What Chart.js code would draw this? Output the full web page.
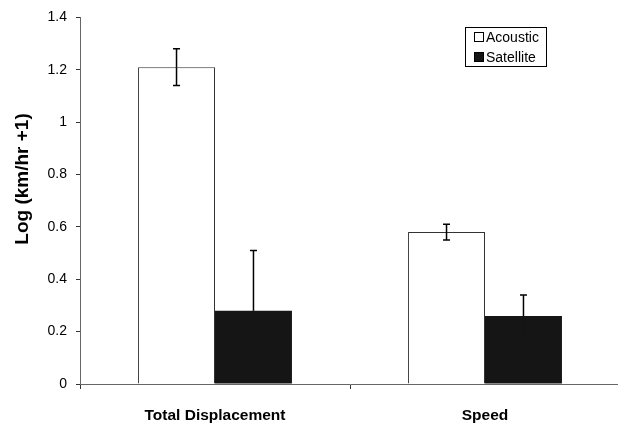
<!DOCTYPE html>
<html lang="en">
<head>
    <meta charset="UTF-8">
    <title>Log (km/hr +1) by method</title>
    <script src="https://cdn.jsdelivr.net/npm/chart.js"></script>
    <style>
        html, body { margin: 0; padding: 0; overflow: hidden; background: #fff; }
        #wrap { width: 624px; height: 423px; }
    </style>
</head>
<body>
    <div id="wrap"><canvas id="myChart" width="624" height="423"></canvas></div>
    <script>
        const categories = ['Total Displacement', 'Speed'];
        const acoustic = [1.21, 0.58];
        const acousticErr = [0.07, 0.03];
        const satellite = [0.28, 0.26];
        const satelliteErr = [0.23, 0.08];
        const yTicks = [0, 0.2, 0.4, 0.6, 0.8, 1, 1.2, 1.4];
        const yTitle = 'Log (km/hr +1)';

        const errs = [acousticErr, satelliteErr];
        const FONT = '"Liberation Sans", Arial, sans-serif';

        // error bars drawn from the scales after the bars
        // (the lower whisker sits inside the bar, so it takes the bar colour on the dark series)
        const errorBars = {
            id: 'errorBars',
            afterDatasetsDraw(chart) {
                const ctx = chart.ctx;
                const y = chart.scales.y;
                ctx.save();
                ctx.lineWidth = 1.5;
                chart.data.datasets.forEach((ds, i) => {
                    const lowColor = i === 1 ? ds.backgroundColor : '#000';
                    chart.getDatasetMeta(i).data.forEach((bar, j) => {
                        const v = ds.data[j], e = errs[i][j];
                        const top = y.getPixelForValue(v + e);
                        const mid = y.getPixelForValue(v);
                        const bot = y.getPixelForValue(v - e);
                        ctx.strokeStyle = '#000';
                        ctx.beginPath();
                        ctx.moveTo(bar.x, top); ctx.lineTo(bar.x, mid);
                        ctx.moveTo(bar.x - 3.5, top); ctx.lineTo(bar.x + 3.5, top);
                        ctx.stroke();
                        ctx.strokeStyle = lowColor;
                        ctx.beginPath();
                        ctx.moveTo(bar.x, mid); ctx.lineTo(bar.x, bot);
                        ctx.moveTo(bar.x - 3.5, bot); ctx.lineTo(bar.x + 3.5, bot);
                        ctx.stroke();
                    });
                });
                ctx.restore();
            }
        };

        // boxed legend in the upper right of the plot, plus the y title
        const boxLegend = {
            id: 'boxLegend',
            afterDraw(chart) {
                const ctx = chart.ctx;
                ctx.save();
                ctx.strokeStyle = '#000';
                ctx.lineWidth = 1;
                ctx.strokeRect(465.5, 27.5, 81, 39);
                ctx.font = '14px ' + FONT;
                ctx.textBaseline = 'middle';
                chart.data.datasets.forEach((ds, i) => {
                    const cy = 37 + i * 20;
                    ctx.fillStyle = ds.backgroundColor;
                    ctx.fillRect(474, cy - 5, 10, 10);
                    ctx.strokeStyle = '#000';
                    ctx.strokeRect(474.5, cy - 4.5, 9, 9);
                    ctx.fillStyle = '#000';
                    ctx.fillText(ds.label, 486, cy + 1);
                });

                ctx.translate(23, 179);
                ctx.rotate(-Math.PI / 2);
                ctx.textAlign = 'center';
                ctx.font = 'bold 19px ' + FONT;
                ctx.fillText(yTitle, 0, 0);
                ctx.restore();
            }
        };

        window.addEventListener('load', drawChart);

        function drawChart() {
            const ctx = document.getElementById('myChart').getContext('2d');
            new Chart(ctx, {
                type: 'bar',
                data: {
                    labels: categories,
                    datasets: [
                        {
                            label: 'Acoustic',
                            data: acoustic,
                            backgroundColor: '#ffffff',
                            borderColor: '#333333',
                            borderWidth: 1,
                            categoryPercentage: 0.57,
                            barPercentage: 1
                        },
                        {
                            label: 'Satellite',
                            data: satellite,
                            backgroundColor: '#151515',
                            borderColor: '#151515',
                            borderWidth: 0,
                            categoryPercentage: 0.57,
                            barPercentage: 1
                        }
                    ]
                },
                options: {
                    responsive: false,
                    animation: false,
                    layout: { padding: { left: 0, right: 4, top: 17, bottom: 0 } },
                    plugins: {
                        legend: { display: false },
                        tooltip: { enabled: false }
                    },
                    scales: {
                        x: {
                            afterFit: s => { s.height = 39; },
                            border: { color: '#666', width: 1 },
                            grid: { drawOnChartArea: false, tickLength: 5, color: '#333', offset: true },
                            ticks: {
                                color: '#000',
                                padding: 17,
                                font: { family: FONT, size: 15.5, weight: 'bold' }
                            }
                        },
                        y: {
                            min: 0,
                            max: 1.4,
                            afterFit: s => { s.width = 80; },
                            afterBuildTicks: s => { s.ticks = yTicks.map(v => ({ value: v })); },
                            border: { color: '#666', width: 1 },
                            grid: { drawOnChartArea: false, tickLength: 4, color: '#333' },
                            ticks: {
                                color: '#000',
                                padding: 9,
                                font: { family: FONT, size: 14 },
                                callback: v => String(v)
                            }
                        }
                    }
                },
                plugins: [errorBars, boxLegend]
            });
        }
    </script>
</body>
</html>
